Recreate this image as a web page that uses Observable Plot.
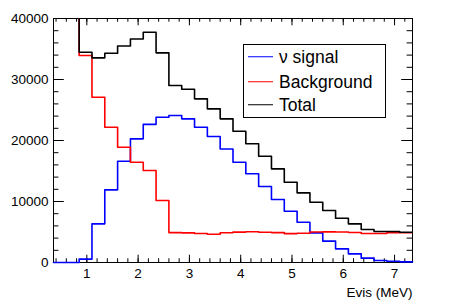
<!DOCTYPE html>
<html>
<head>
<meta charset="utf-8">
<script src="https://cdn.jsdelivr.net/npm/d3@7"></script>
<script src="https://cdn.jsdelivr.net/npm/@observablehq/plot@0.6"></script>
<style>
  body { margin: 0; background: #fff; }
  #wrap { position: relative; width: 450px; height: 305px; font-family: "Liberation Sans", Arial, sans-serif; }
  #legend { position: absolute; left: 243px; top: 44px; width: 143px; height: 74px; box-sizing: border-box;
            border: 1px solid #000; background: #fff; }
  .row { position: absolute; left: 0; height: 0; }
  .swatch { position: absolute; left: 4px; width: 25px; height: 0; border-top: 1.5px solid; transform: translateY(-0.75px); }
  .lab { position: absolute; left: 35px; font-size: 17.5px; line-height: 20px; top: -10px; white-space: nowrap; color: #000; }
</style>
</head>
<body>
<div id="wrap"></div>
<script>
// ---- data ----
const binEdges = [0.35, 0.6, 0.85, 1.1, 1.35, 1.6, 1.85, 2.1, 2.35, 2.6, 2.85, 3.1, 3.35, 3.6, 3.85,
                  4.1, 4.35, 4.6, 4.85, 5.1, 5.35, 5.6, 5.85, 6.1, 6.35, 6.6, 6.85, 7.1, 7.35];
const signal = [0, 0, 550, 6340, 11910, 16600, 20270, 22650, 23820, 24100, 23550, 22180, 20650, 18600,
                16440, 14540, 12460, 10330, 8410, 6610, 4860, 3500, 2240, 1420, 710, 330, 210, 100];
const background = [60000, 48000, 33930, 27100, 22180, 18900, 16440, 15080, 10160, 4900, 4860, 4750, 4640, 4880,
                    4980, 5050, 4970, 4900, 4740, 4800, 5000, 5020, 5000, 4930, 4760, 4760, 4870, 4880];
const total = [60000, 48000, 34470, 33550, 34300, 35500, 36650, 37750, 34370, 29010, 28400, 26830, 25190, 23550,
               21520, 19460, 17420, 15350, 13160, 11420, 9880, 8520, 7260, 6340, 5410, 5080, 5080, 4970];
const seriesNames = ["\u03bd signal", "Background", "Total"];
const seriesColors = ["#0000ff", "#ff0000", "#000000"];
const xMajorTicks = [1, 2, 3, 4, 5, 6, 7];
const yMajorTicks = [0, 10000, 20000, 30000, 40000];
const xLabel = "Evis (MeV)";

// ---- helpers ----
function steps(values) {
  const pts = values.map((v, i) => ({x: binEdges[i], y: v}));
  pts.push({x: binEdges[values.length], y: values[values.length - 1]});
  return pts;
}
const series = [signal, background, total];
const xMinor = d3.range(0.4, 7.35, 0.2);
const yMinor = d3.range(0, 40001, 2000);

const W = 450, H = 305, mL = 53, mR = 38, mT = 18, mB = 43;
const fw = W - mL - mR, fh = H - mT - mB;
const xMajLen = 7.3, xMinLen = 3.7, yMajLen = 10.8, yMinLen = 5.4;

const chart = Plot.plot({
  width: W, height: H,
  marginLeft: mL, marginRight: mR, marginTop: mT, marginBottom: mB,
  style: {fontFamily: "'Liberation Sans', Arial, sans-serif", fontSize: "13.5px", background: "#fff", color: "#000"},
  x: {domain: [binEdges[0], binEdges[binEdges.length - 1]]},
  y: {domain: [0, 40000]},
  marks: [
    Plot.frame({stroke: "#000", strokeWidth: 1}),
    // ticks (inside the frame, on all four sides)
    Plot.tickX(xMinor, {x: d => d, insetTop: fh - xMinLen, stroke: "#000"}),
    Plot.tickX(xMajorTicks, {x: d => d, insetTop: fh - xMajLen, stroke: "#000"}),
    Plot.tickX(xMinor, {x: d => d, insetBottom: fh - xMinLen, stroke: "#000"}),
    Plot.tickX(xMajorTicks, {x: d => d, insetBottom: fh - xMajLen, stroke: "#000"}),
    Plot.tickY(yMinor, {y: d => d, insetRight: fw - yMinLen, stroke: "#000"}),
    Plot.tickY(yMajorTicks, {y: d => d, insetRight: fw - yMajLen, stroke: "#000"}),
    Plot.tickY(yMinor, {y: d => d, insetLeft: fw - yMinLen, stroke: "#000"}),
    Plot.tickY(yMajorTicks, {y: d => d, insetLeft: fw - yMajLen, stroke: "#000"}),
    Plot.axisX(xMajorTicks, {tickSize: 0, tickPadding: 6, tickFormat: d => String(d), label: null}),
    Plot.axisY(yMajorTicks, {tickSize: 0, tickPadding: 5, tickFormat: d3.format("d"), label: null}),
    Plot.text([xLabel], {text: d => d, frameAnchor: "bottom-right", dy: 34.7, textAnchor: "end", lineAnchor: "bottom", fill: "#000"}),
    ...series.map((vals, i) => Plot.line(steps(vals), {
      x: "x", y: "y", curve: "step-after", stroke: seriesColors[i], strokeWidth: 1.6,
      clip: i === 0 ? false : true
    }))
  ]
});
const wrap = document.getElementById("wrap");
wrap.appendChild(chart);

// legend
const legend = document.createElement("div");
legend.id = "legend";
const rowY = [12, 36.5, 60];
seriesNames.forEach((name, i) => {
  const row = document.createElement("div");
  row.className = "row";
  row.style.top = rowY[i] + "px";
  const sw = document.createElement("div");
  sw.className = "swatch";
  sw.style.borderTopColor = seriesColors[i];
  const lab = document.createElement("div");
  lab.className = "lab";
  lab.textContent = name;
  row.appendChild(sw); row.appendChild(lab);
  legend.appendChild(row);
});
wrap.appendChild(legend);
</script>
</body>
</html>
